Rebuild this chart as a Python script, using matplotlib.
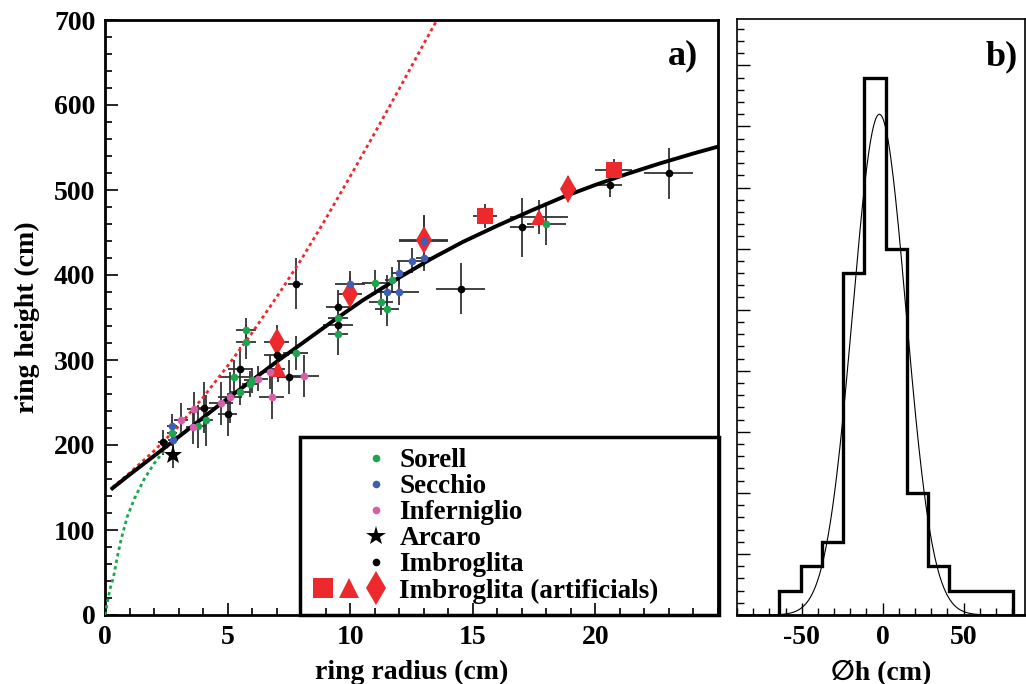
import numpy as np
import matplotlib.pyplot as plt
from matplotlib.lines import Line2D
from matplotlib.legend_handler import HandlerTuple
from matplotlib.ticker import MultipleLocator, FixedLocator

plt.rcParams['font.family'] = ['Liberation Serif', 'DejaVu Serif', 'DejaVu Sans']
plt.rcParams['font.weight'] = 'bold'
plt.rcParams['axes.unicode_minus'] = False

# ---- panel a: measured rings (x, y, xerr, yerr) ----
sorell_x = [2.72, 3.8, 4.12, 5.26, 5.5, 5.9, 5.98, 5.76, 5.76, 7.77, 9.5, 9.5, 11.0, 11.7, 11.25, 11.5, 18.0]
sorell_y = [214, 222, 229, 280, 262, 272, 276, 335, 321, 308, 331, 350, 391, 394, 368, 360, 460]
sorell_xe = [0.2, 0.3, 0.3, 0.6, 0.4, 0.3, 0.3, 0.4, 0.4, 0.5, 0.4, 0.4, 0.5, 0.3, 0.5, 0.5, 0.8]
sorell_ye = [15, 25, 30, 20, 15, 15, 15, 15, 20, 20, 25, 20, 15, 15, 15, 20, 25]

secchio_x = [2.72, 2.76, 10.0, 12.0, 11.5, 12.0, 12.5, 13.0, 13.0]
secchio_y = [222, 206, 390, 402, 380, 380, 417, 420, 440]
secchio_xe = [0.2, 0.2, 0.6, 0.3, 0.5, 0.8, 0.6, 0.3, 1.0]
secchio_ye = [15, 15, 15, 15, 20, 15, 15, 15, 30]

infern_x = [3.1, 3.64, 3.6, 4.74, 5.1, 6.26, 6.72, 6.8, 8.12]
infern_y = [229, 242, 221, 249, 256, 278, 286, 256, 281]
infern_xe = [0.3, 0.3, 0.3, 0.5, 0.5, 0.4, 0.4, 0.5, 0.6]
infern_ye = [20, 20, 20, 25, 30, 15, 20, 25, 25]

arcaro_x = [2.76]
arcaro_y = [188]
arcaro_xe = [0.1]
arcaro_ye = [15]

imbro_x = [2.35, 4.04, 5.0, 5.5, 7.0, 7.5, 7.77, 9.5, 9.5, 14.5, 17.0, 20.6, 23.0]
imbro_y = [203, 244, 236, 290, 306, 280, 390, 362, 341, 384, 456, 506, 520]
imbro_xe = [0.2, 0.4, 0.4, 0.5, 0.5, 0.5, 0.3, 0.5, 0.6, 1.0, 0.5, 0.5, 1.0]
imbro_ye = [15, 30, 25, 25, 25, 20, 30, 20, 15, 30, 35, 14, 30]

art_sq_x = [15.5, 20.75]
art_sq_y = [469, 524]
art_sq_xe = [0.5, 0.75]
art_sq_ye = [14, 12]

art_tri_x = [7.05, 17.7]
art_tri_y = [289, 468]
art_tri_xe = [0.3, 1.2]
art_tri_ye = [15, 20]

art_dia_x = [7.0, 10.0, 13.0, 18.9]
art_dia_y = [321, 378, 441, 501]
art_dia_xe = [0.5, 0.5, 1.0, 0.3]
art_dia_ye = [20, 20, 30, 15]

# model curves
fit_x = [0.3, 1.0, 2.4, 3.6, 4.7, 5.9, 7.0, 8.2, 9.4, 10.5, 12.0, 13.3, 14.6, 16.0, 17.4, 18.7, 20.0, 21.3, 22.6, 24.0, 25.0]
fit_y = [149, 165, 196, 223, 248, 274, 298, 323, 348, 370, 397, 419, 439, 458, 476, 492, 506, 519, 531, 543, 551]

lin_x = [0.3, 1.0, 2.0, 3.0, 4.0, 5.0, 6.0, 7.0, 8.0, 9.0, 10.0, 11.0, 12.0, 13.0, 13.6]
lin_y = [150, 167, 193, 222, 256, 293, 332, 374, 418, 466, 516, 567, 619, 672, 703]

low_x = [0.0, 0.1, 0.2, 0.35, 0.5, 0.65, 0.9, 1.2, 1.6, 2.0, 2.5, 3.0, 3.4]
low_y = [0, 15, 30, 45, 68, 88, 115, 137, 160, 178, 197, 212, 219]

# ---- panel b: residual histogram ----
dh_edges = [-63.8, -50.7, -37.5, -24.4, -11.2, 1.9, 15.0, 28.2, 41.3, 54.5, 67.6, 80.7]
dh_counts = [1, 2, 3, 14, 22, 15, 5, 2, 1, 1, 1]
gaus_amp, gaus_mean, gaus_sigma = 20.5, -2.0, 16.5

GREEN = '#1aa64c'
BLUE = '#3d5fb5'
PINK = '#d95ea9'
RED = '#ec2a2e'
EBAR = '#333333'
FONT = ['Liberation Serif', 'DejaVu Serif', 'DejaVu Sans']

fig = plt.figure(figsize=(10.26, 6.84), dpi=100)
ax = fig.add_axes([105/1026, 69/684, 613/1026, 595/684])
axb = fig.add_axes([737/1026, 69/684, 288/1026, 596/684])

groups = [
    (sorell_x, sorell_y, sorell_xe, sorell_ye, dict(marker='o', color=GREEN, ms=5.5)),
    (secchio_x, secchio_y, secchio_xe, secchio_ye, dict(marker='o', color=BLUE, ms=5.5)),
    (infern_x, infern_y, infern_xe, infern_ye, dict(marker='o', color=PINK, ms=5.5)),
    (imbro_x, imbro_y, imbro_xe, imbro_ye, dict(marker='o', color='black', ms=5.5)),
    (art_sq_x, art_sq_y, art_sq_xe, art_sq_ye, dict(marker='s', color=RED, ms=11)),
    (art_tri_x, art_tri_y, art_tri_xe, art_tri_ye, dict(marker='^', color=RED, ms=11)),
    (art_dia_x, art_dia_y, art_dia_xe, art_dia_ye, dict(marker='d', color=RED, ms=14)),
    (arcaro_x, arcaro_y, arcaro_xe, arcaro_ye, dict(marker='*', color='black', ms=14)),
]

for x, y, xe, ye, st in groups:
    ax.errorbar(x, y, xerr=xe, yerr=ye, fmt='none', ecolor=EBAR, elinewidth=1.3, capsize=0, zorder=2)

ax.plot(lin_x, lin_y, color=RED, lw=2.0, ls=(0, (1.2, 1.2)), zorder=3)
ax.plot(low_x, low_y, color=GREEN, lw=2.0, ls=(0, (1.2, 1.2)), zorder=3)
ax.plot(fit_x, fit_y, color='black', lw=2.8, zorder=3)

# artificials under the dots (blue dot sits inside one diamond)
for x, y, xe, ye, st in groups[4:7] + groups[:4] + groups[7:]:
    ax.plot(x, y, ls='none', marker=st['marker'], color=st['color'], ms=st['ms'],
            markeredgewidth=0, zorder=4)

ax.set_xlim(0, 25)
ax.set_ylim(0, 700)
ax.xaxis.set_major_locator(FixedLocator([0, 5, 10, 15, 20]))
ax.xaxis.set_minor_locator(MultipleLocator(1))
ax.yaxis.set_major_locator(MultipleLocator(100))
ax.yaxis.set_minor_locator(MultipleLocator(20))
ax.tick_params(which='both', direction='in', top=False, right=False, width=1.2, labelsize=20, pad=7)
ax.tick_params(which='major', length=9)
ax.tick_params(which='minor', length=5)
for s in ax.spines.values():
    s.set_linewidth(2)
ax.set_xlabel('ring radius (cm)', fontsize=20, fontweight='bold', labelpad=7)
ax.set_ylabel('ring height (cm)', fontsize=20, fontweight='bold', labelpad=10)
ax.text(0.943, 0.94, 'a)', transform=ax.transAxes, fontsize=26, fontweight='bold', ha='center', va='center')

blank = Line2D([], [], ls='none', marker='o', alpha=0)
def dot(c, m='o', ms=5.5):
    return Line2D([], [], ls='none', marker=m, color=c, ms=ms, markeredgewidth=0)

handles = [
    (blank, blank, dot(GREEN)),
    (blank, blank, dot(BLUE)),
    (blank, blank, dot(PINK)),
    (blank, blank, dot('black', '*', 15)),
    (blank, blank, dot('black')),
    (dot(RED, 's', 14), dot(RED, '^', 14), dot(RED, 'd', 17)),
]
labels = ['Sorell', 'Secchio', 'Inferniglio', 'Arcaro', 'Imbroglita', 'Imbroglita (artificials)']
leg = ax.legend(handles, labels, handler_map={tuple: HandlerTuple(ndivide=None, pad=0.15)},
                loc='lower left', bbox_to_anchor=(0.318, 0.0, 0.684, 0.29), mode='expand',
                borderaxespad=0, handlelength=2.8, handletextpad=0.45, labelspacing=0.04,
                borderpad=0.42, fancybox=False, framealpha=1, facecolor='none', edgecolor='black',
                prop=dict(family=FONT, weight='bold', size=19.5))
leg.get_frame().set_linewidth(2.5)

# ---- panel b ----
axb.stairs(dh_counts, dh_edges, baseline=0, color='black', lw=2.4)
gx = np.linspace(-90, 90, 400)
axb.plot(gx, gaus_amp * np.exp(-0.5 * ((gx - gaus_mean) / gaus_sigma) ** 2), color='black', lw=0.8)
axb.set_xlim(-90, 88)
axb.set_ylim(0, 24.4)
axb.xaxis.set_major_locator(MultipleLocator(50))
axb.xaxis.set_minor_locator(MultipleLocator(10))
axb.yaxis.set_major_locator(MultipleLocator(2.5))
axb.yaxis.set_minor_locator(MultipleLocator(0.5))
axb.tick_params(which='both', direction='in', top=False, right=False, width=1.0, labelsize=20, pad=7)
axb.tick_params(axis='y', labelleft=False)
axb.tick_params(which='major', length=9)
axb.tick_params(which='minor', length=5)
for s in axb.spines.values():
    s.set_linewidth(1.2)
axb.spines['bottom'].set_linewidth(2)
axb.set_xlabel('\u2205h (cm)', fontsize=20, fontweight='bold', labelpad=7, family=FONT)
axb.text(0.92, 0.937, 'b)', transform=axb.transAxes, fontsize=26, fontweight='bold', ha='center', va='center')

fig.savefig('out.png', dpi=100)
